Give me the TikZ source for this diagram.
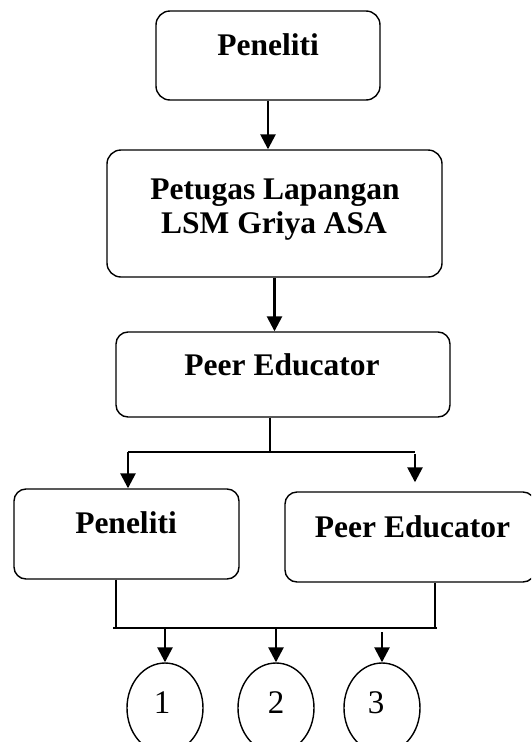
\documentclass[tikz,border=0pt]{standalone}
\usepackage{fontspec}
\setmainfont{Liberation Serif}
\usetikzlibrary{arrows.meta,shapes.geometric}
\begin{document}
\begin{tikzpicture}[x=1pt,y=-1pt,
  box/.style={draw,line width=1.4pt,rounded corners=14pt,inner sep=0pt},
  lbl/.style={anchor=base,inner sep=0pt,font=\fontsize{31.5}{34}\selectfont\bfseries},
  num/.style={anchor=base,inner sep=0pt,font=\fontsize{33}{35}\selectfont},
  circ/.style={draw,ellipse,line width=1.4pt,minimum width=76pt,minimum height=90pt,inner sep=0pt},
  arr/.style={line width=2.6pt,-{Triangle[length=15pt,width=15pt]}},
  thin/.style={line width=1.3pt}]
\useasboundingbox (0,0) rectangle (531,742);
\clip (0,0) rectangle (531,742);
% boxes
\node[box,minimum width=224pt,minimum height=89pt] (b1) at (268,55.5) {};
\node[box,minimum width=335pt,minimum height=127pt] (b2) at (274.5,213.5) {};
\node[box,rounded corners=12pt,minimum width=334pt,minimum height=85pt] (b3) at (283,374.5) {};
\node[box,rounded corners=12pt,minimum width=225pt,minimum height=90pt] (b4) at (126.5,534) {};
\node[box,rounded corners=12pt,minimum width=250pt,minimum height=90pt] (b5) at (410,537) {};
% texts
\node[lbl] (t1) at (268,55) {Peneliti};
\node[lbl] (t2a) at (275,199) {Petugas Lapangan};
\node[lbl] (t2b) at (274,233) {LSM Griya ASA};
\node[lbl] (t3) at (282,375) {Peer Educator};
\node[lbl] (t4) at (126,533) {Peneliti};
\node[lbl] (t5) at (412.5,537) {Peer Educator};
% circles
\node[circ] (c1) at (165,708) {};
\node[circ] (c2) at (276,708) {};
\node[circ] (c3) at (382,708) {};
\node[num] (n1) at (162,713) {1};
\node[num] (n2) at (276,713) {2};
\node[num] (n3) at (376,713) {3};
% connectors
\draw[arr] (b1.south) -- (b1.south |- b2.north);
\draw[arr] (b2.south) -- (b2.south |- b3.north);
\coordinate (j1) at (270,452);
\coordinate (jl) at (128,452);
\coordinate (jr) at (415,452);
\draw[thin] (b3.south -| j1) -- (j1);
\draw[thin] (jl) -- (jr);
\draw[arr] (jl) -- (jl |- b4.north);
\draw[arr,shorten >=9pt] ([yshift=-2pt]jr) -- (jr |- b5.north);
\coordinate (k1) at (116,628);
\coordinate (k2) at (435,628);
\draw[thin] (b4.south -| k1) -- (k1);
\draw[thin] (b5.south -| k2) -- (k2);
\draw[thin] ([xshift=-3pt]k1) -- ([xshift=2pt]k2);
\draw[arr] (c1.north |- k1) -- (c1.north);
\draw[arr] (c2.north |- k1) -- (c2.north);
\draw[arr] ([yshift=-4pt]c3.north |- k1) -- (c3.north);
\end{tikzpicture}
\end{document}
